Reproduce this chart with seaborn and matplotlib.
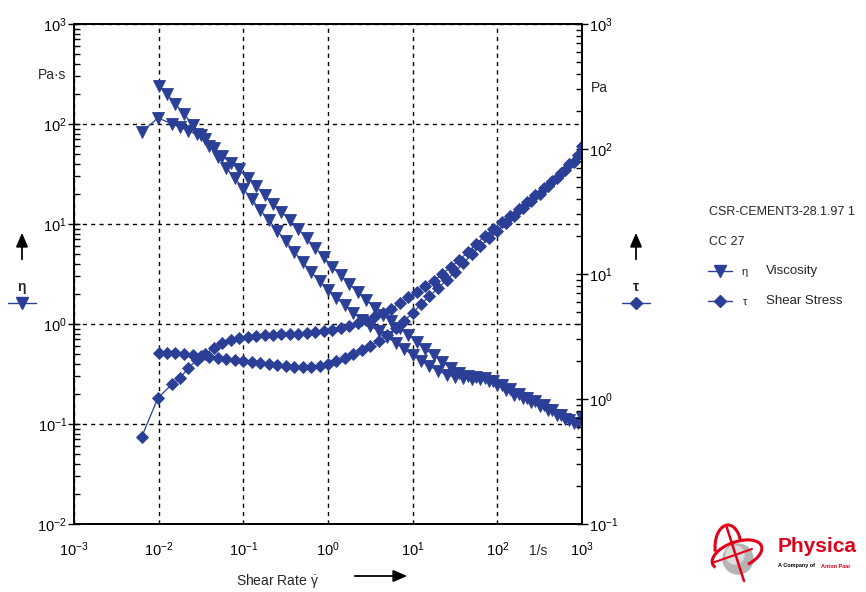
import numpy as np
import pandas as pd
import matplotlib
matplotlib.use("Agg")
import matplotlib.pyplot as plt
import seaborn as sns
from matplotlib.ticker import LogLocator, LogFormatterSciNotation, NullFormatter
from matplotlib.patches import Circle, Arc, FancyArrowPatch
from matplotlib.lines import Line2D

# ---------------- data ----------------
# ramp up (increasing shear rate), 1/s
rate_up = [0.0063, 0.0098, 0.0145, 0.0178, 0.0224, 0.0282, 0.0355, 0.0447, 0.0562, 0.0708,
           0.0891, 0.112, 0.141, 0.178, 0.224, 0.282, 0.355, 0.447, 0.562, 0.708,
           0.891, 1.12, 1.41, 1.78, 2.24, 2.82, 3.55, 4.47, 5.62, 7.08,
           8.91, 11.2, 14.1, 17.8, 22.4, 28.2, 35.5, 44.7, 56.2, 70.8,
           89.1, 112, 141, 178, 224, 282, 355, 447, 562, 708, 891]
eta_up = [83, 115, 100, 93, 85, 79, 71, 58, 48, 41,
          35.5, 28.8, 24.0, 19.5, 15.8, 13.2, 11.0, 8.9, 7.2, 5.75,
          4.7, 3.7, 3.1, 2.5, 2.09, 1.74, 1.45, 1.23, 1.07, 0.91,
          0.78, 0.66, 0.56, 0.49, 0.42, 0.36, 0.32, 0.30, 0.295, 0.29,
          0.27, 0.245, 0.224, 0.20, 0.182, 0.17, 0.155, 0.138, 0.123, 0.11, 0.102]
tau_up = [0.497, 1.02, 1.32, 1.47, 1.77, 2.05, 2.29, 2.56, 2.81, 2.96,
          3.08, 3.13, 3.19, 3.25, 3.25, 3.31, 3.31, 3.31, 3.37, 3.44,
          3.50, 3.56, 3.70, 3.84, 4.06, 4.29, 4.61, 4.88, 5.25, 5.86,
          6.55, 7.18, 8.02, 8.79, 10.0, 11.4, 12.9, 15.0, 17.4, 20.1,
          22.9, 26.1, 29.1, 33.1, 37.7, 42.9, 48.8, 55.5, 64.3, 75.9, 89.5]

# ramp down (listed here from low to high shear rate), 1/s
rate_down = [0.01, 0.0126, 0.0158, 0.02, 0.0251, 0.0316, 0.0398, 0.0501, 0.0631, 0.0794,
             0.1, 0.126, 0.158, 0.2, 0.251, 0.316, 0.398, 0.501, 0.631, 0.794,
             1.0, 1.26, 1.58, 2.0, 2.51, 3.16, 3.98, 5.01, 6.31, 7.94,
             10, 12.6, 15.8, 20, 25.1, 31.6, 39.8, 50.1, 63.1, 79.4,
             100, 126, 158, 200, 251, 316, 398, 501, 631, 794, 1000]
eta_down = [240, 200, 158, 126, 98, 78, 60, 47, 36, 29,
            22.4, 17.8, 13.8, 11.0, 8.5, 6.8, 5.25, 4.2, 3.3, 2.7,
            2.19, 1.82, 1.55, 1.29, 1.10, 0.955, 0.85, 0.74, 0.645, 0.56,
            0.49, 0.43, 0.38, 0.34, 0.31, 0.295, 0.29, 0.28, 0.28, 0.27,
            0.245, 0.22, 0.195, 0.182, 0.166, 0.151, 0.138, 0.123, 0.112, 0.102, 0.115]
tau_down = [2.33, 2.33, 2.33, 2.29, 2.25, 2.21, 2.17, 2.13, 2.09, 2.05,
            2.01, 1.98, 1.94, 1.91, 1.87, 1.84, 1.80, 1.80, 1.80, 1.84,
            1.91, 2.01, 2.13, 2.29, 2.47, 2.65, 2.91, 3.25, 3.70, 4.21,
            4.88, 5.75, 6.67, 7.71, 8.95, 10.4, 12.2, 14.5, 16.7, 19.4,
            22.1, 25.6, 29.1, 33.7, 38.4, 43.7, 50.6, 58.6, 67.9, 78.7, 106]

x_ticks = [1e-3, 1e-2, 1e-1, 1e0, 1e1, 1e2, 1e3]
left_ticks = [1e-2, 1e-1, 1e0, 1e1, 1e2, 1e3]
right_ticks = [1e-1, 1e0, 1e1, 1e2, 1e3]

# ---------------- style ----------------
sns.set_theme(style="white")
plt.rcParams['font.family'] = ['Liberation Sans', 'DejaVu Sans']
plt.rcParams['mathtext.default'] = 'regular'
plt.rcParams['axes.unicode_minus'] = False

BLUE = '#2b3f97'
W, H = 866, 592

def fx(x):
    return x / W

def fy(y):
    return 1 - y / H

fig = plt.figure(figsize=(W / 100, H / 100), dpi=100)
ax = fig.add_axes([fx(74), fy(524), 508 / W, 500 / H])
ax2 = ax.twinx()

df = pd.DataFrame({
    'rate': rate_up + rate_down[::-1],
    'eta': eta_up + eta_down[::-1],
    'tau': tau_up + tau_down[::-1],
})

sns.lineplot(data=df, x='rate', y='eta', sort=False, estimator=None, ax=ax,
             color=BLUE, lw=0.9, marker='v', markersize=9,
             markeredgecolor=BLUE, markeredgewidth=0.6)
sns.lineplot(data=df, x='rate', y='tau', sort=False, estimator=None, ax=ax2,
             color=BLUE, lw=0.9, marker='D', markersize=6.3,
             markeredgecolor=BLUE, markeredgewidth=0.6)

for a in (ax, ax2):
    a.set_xscale('log')
    a.set_yscale('log')
    a.set_xlabel('')
    a.set_ylabel('')
    for s in a.spines.values():
        s.set_color('black')
        s.set_linewidth(1.2)

ax.set_xlim(1e-3, 1e3)
ax.set_ylim(1e-2, 1e3)
ax2.set_ylim(1e-1, 1e3)

ax.set_xticks(x_ticks)
ax.xaxis.set_minor_locator(LogLocator(base=10, subs=[5], numticks=20))
ax.xaxis.set_minor_formatter(NullFormatter())
ax.set_yticks(left_ticks)
ax.yaxis.set_minor_locator(LogLocator(base=10, subs=np.arange(2, 10), numticks=20))
ax.yaxis.set_minor_formatter(NullFormatter())
ax2.set_yticks(right_ticks)
ax2.yaxis.set_minor_locator(LogLocator(base=10, subs=np.arange(2, 10), numticks=20))
ax2.yaxis.set_minor_formatter(NullFormatter())
for a in (ax, ax2):
    a.xaxis.set_major_formatter(LogFormatterSciNotation())
    a.yaxis.set_major_formatter(LogFormatterSciNotation())

LS = 10.5
ax.tick_params(axis='x', which='major', direction='inout', length=8, width=1, colors='black',
               labelsize=LS, pad=8, top=False)
ax.tick_params(axis='x', which='minor', direction='in', length=4, width=1, colors='black', top=False)
ax.tick_params(axis='y', which='major', direction='inout', length=8, width=1, colors='black',
               labelsize=LS, pad=1, left=True, right=False)
ax.tick_params(axis='y', which='minor', direction='in', length=4, width=1, colors='black',
               left=True, right=False)
ax2.tick_params(axis='y', which='major', direction='inout', length=8, width=1, colors='black',
                labelsize=LS, pad=1, right=True, left=False)
ax2.tick_params(axis='y', which='minor', direction='in', length=4, width=1, colors='black',
                right=True, left=False)

ax.grid(True, which='major', color='black', linestyle=(0, (3, 3)), linewidth=1.0)
ax.grid(False, which='minor')
ax.set_axisbelow(True)
ax2.grid(False)

# ---------------- annotations ----------------
def txt(x, y, s, **kw):
    fig.text(fx(x), fy(y), s, **kw)

txt(66, 75, 'Pa·s', ha='right', va='center', fontsize=10)
txt(591, 88, 'Pa', ha='left', va='center', fontsize=10)
txt(529, 551, '1/s', ha='left', va='center', fontsize=10)
txt(236, 581, r'Shear Rate $\dot{\gamma}$', ha='left', va='center', fontsize=10)

def arrow(x0, y0, x1, y1):
    fig.add_artist(FancyArrowPatch((fx(x0), fy(y0)), (fx(x1), fy(y1)),
                                   transform=fig.transFigure,
                                   arrowstyle='-|>,head_length=0.7,head_width=0.3',
                                   mutation_scale=12, color='black', lw=1.3))

arrow(352, 576, 410, 576)
arrow(22, 262, 22, 230)
arrow(636, 262, 636, 230)

txt(22, 287, 'η', ha='center', va='center', fontsize=10, fontweight='bold')
txt(636, 287, 'τ', ha='center', va='center', fontsize=10, fontweight='bold')

def legmark(xc, y, marker, ms, half=14):
    fig.add_artist(Line2D([fx(xc - half), fx(xc + half)], [fy(y), fy(y)], transform=fig.transFigure,
                          color=BLUE, lw=1.0))
    fig.add_artist(Line2D([fx(xc)], [fy(y)], transform=fig.transFigure, color=BLUE,
                          marker=marker, markersize=ms, markeredgecolor=BLUE, linestyle='none'))

legmark(22, 303, 'v', 9)
legmark(636, 303, 'D', 6.5)
legmark(720, 271, 'v', 9, half=12)
legmark(720, 301, 'D', 6.5, half=12)

txt(709, 212, 'CSR-CEMENT3-28.1.97 1', ha='left', va='center', fontsize=9)
txt(709, 242, 'CC 27', ha='left', va='center', fontsize=9)
txt(745, 272, 'η', ha='center', va='center', fontsize=8)
txt(745, 302, 'τ', ha='center', va='center', fontsize=8)
txt(766, 271, 'Viscosity', ha='left', va='center', fontsize=9.5)
txt(766, 301, 'Shear Stress', ha='left', va='center', fontsize=9.5)

# Physica logo
RED = '#e2001a'
txt(778, 546, 'Physica', ha='left', va='center', fontsize=15, fontweight='bold', color=RED)
txt(778, 566, 'A Company of ', ha='left', va='center', fontsize=4, color='black', fontweight='bold')
txt(821, 566, 'Anton Paar', ha='left', va='center', fontsize=4, color=RED, fontweight='bold')
logo = fig.add_axes([fx(704), fy(585), 66 / W, 64 / H])
logo.set_xlim(0, 66)
logo.set_ylim(0, 64)
logo.axis('off')
logo.add_patch(Circle((34, 26), 15, color='#b4b4b4'))
logo.add_patch(Circle((31, 30), 9, color='#dcdcdc'))
logo.add_patch(Arc((33, 30), 52, 26, angle=20, theta1=-60, theta2=190, color=RED, lw=2.2))
logo.add_patch(Arc((24, 38), 26, 44, angle=0, theta1=30, theta2=200, color=RED, lw=2.2))
logo.plot([22, 40], [60, 4], color=RED, lw=1.8)
logo.plot([8, 48], [22, 36], color=RED, lw=1.5)

fig.savefig('out.png', dpi=100)
